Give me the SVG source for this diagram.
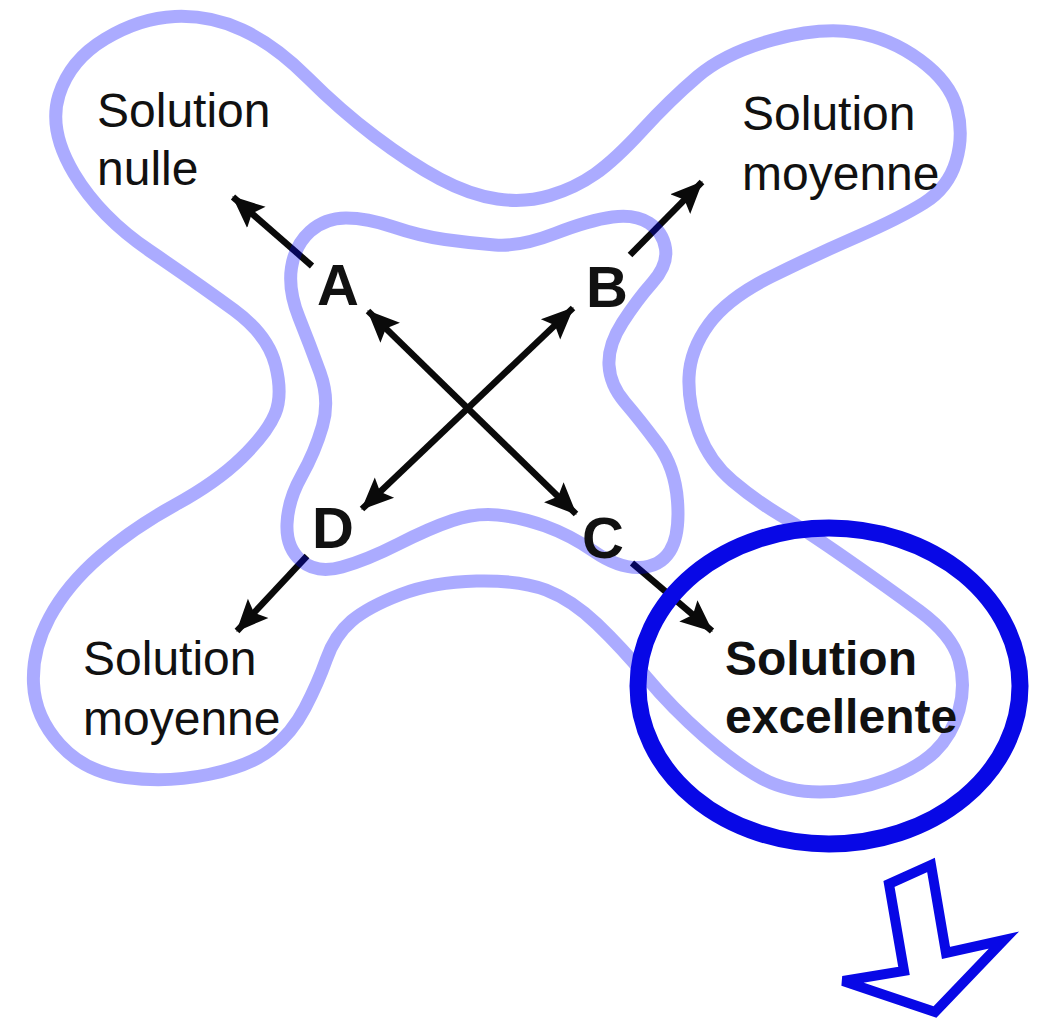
<svg xmlns="http://www.w3.org/2000/svg" width="1045" height="1022" viewBox="0 0 1045 1022">
<style>
.lbl{font-family:"Liberation Sans",Arial,sans-serif;font-size:48px;fill:#111}
.bold{font-weight:bold}
.let{font-family:"Liberation Sans",Arial,sans-serif;font-size:58px;font-weight:bold;fill:#111}
.arr{stroke:#0a0a0a;stroke-width:6.5;fill:none}
.zone{fill:none;stroke:#0000ff;stroke-opacity:0.33;stroke-width:13;stroke-linejoin:round}
</style>
<defs>
<marker id="ah" markerUnits="userSpaceOnUse" markerWidth="34" markerHeight="30" refX="31" refY="14" orient="auto-start-reverse" viewBox="0 0 34 28">
<path d="M0,0 L32,14 L0,28 L6,14 Z" fill="#0a0a0a"/>
</marker>
</defs>
<rect width="1045" height="1022" fill="#fff"/>
<g id="connectors">
<line class="arr" x1="368" y1="311" x2="576" y2="514" marker-start="url(#ah)" marker-end="url(#ah)"/>
<line class="arr" x1="573" y1="308" x2="362" y2="509" marker-start="url(#ah)" marker-end="url(#ah)"/>
<line class="arr" x1="312" y1="266" x2="233" y2="197" marker-end="url(#ah)"/>
<line class="arr" x1="630" y1="255" x2="702" y2="182" marker-end="url(#ah)"/>
<line class="arr" x1="307" y1="556" x2="237" y2="631" marker-end="url(#ah)"/>
<line class="arr" x1="632" y1="563" x2="712" y2="631" marker-end="url(#ah)"/>
</g>
<g id="outer-zone">
<path class="zone" d="M74,173.5 Q48,130 59,95 Q70,60 105,39 Q140,18 175,16.5 Q210,15 242.5,30 Q275,45 307.5,77.5 Q340,110 375,136.5 Q410,163 440,179 Q470,195 497.5,199 Q525,203 550,195.5 Q575,188 595,174 Q615,160 642.5,130 Q670,100 697.5,76.5 Q725,53 772.5,40 Q820,27 855,32.5 Q890,38 920,60 Q950,82 957,108.5 Q964,135 956,161.5 Q948,188 924,203 Q900,218 857.5,236.5 Q815,255 771.5,276.5 Q728,298 709,324 Q690,350 689,377.5 Q688,405 699,433.5 Q710,462 732.5,481 Q755,500 780,515 Q805,530 846,558.5 Q887,587 919.5,611 Q952,635 959,660 Q966,685 959,710 Q952,735 935,751.5 Q918,768 885.5,780 Q853,792 820,792 Q787,792 762,778.5 Q737,765 704.5,736.5 Q672,708 647,678 Q622,648 597,624 Q572,600 546,590 Q520,580 476.5,581 Q433,582 400.5,594.5 Q368,607 351.5,621 Q335,635 326.5,659 Q318,683 305,708 Q292,733 271,749.5 Q250,766 208.5,774.5 Q167,783 126,777.5 Q85,772 60,744.5 Q35,717 33.5,683.5 Q32,650 49.5,617.5 Q67,585 100,556.5 Q133,528 175,505 Q217,482 242,457.5 Q267,433 275,414 Q283,395 275.5,365 Q268,335 234,310 Q200,285 150,251 Q100,217 74,173.5 Z"/>
</g>
<g id="inner-zone">
<path class="zone" d="M555,233.5 Q520,247 495,245 Q470,243 445,239.5 Q420,236 393.5,227 Q367,218 346,218 Q325,218 310,231.5 Q295,245 291.5,267.5 Q288,290 299,317.5 Q310,345 320,372.5 Q330,400 322.5,426 Q315,452 301.5,476 Q288,500 287,524 Q286,548 301.5,561 Q317,574 342,567 Q367,560 398.5,544 Q430,528 452.5,520.5 Q475,513 497.5,515 Q520,517 545,526 Q570,535 594,551.5 Q618,568 639,567.5 Q660,567 670,551 Q680,535 677.5,501 Q675,467 657.5,443.5 Q640,420 625,402.5 Q610,385 609,365 Q608,345 622.5,322.5 Q637,300 652.5,282.5 Q668,265 665.5,248.5 Q663,232 649,223 Q635,214 612.5,217 Q590,220 555,233.5 Z"/>
</g>
<g id="highlight">
<ellipse cx="829" cy="686" rx="191" ry="158" fill="none" stroke="#0808e6" stroke-width="17"/>
</g>
<g id="down-arrow">
<polygon points="931,865 889,884 904,971 843,981 935,1012 1004,940 946,953" fill="#fff" stroke="#0808e6" stroke-width="10" stroke-linejoin="miter"/>
</g>
<g id="node-nulle"><text class="lbl" x="97" y="127">Solution</text><text class="lbl" x="97" y="185">nulle</text></g>
<g id="node-moyenne-b"><text class="lbl" x="742" y="130">Solution</text><text class="lbl" x="742" y="190">moyenne</text></g>
<g id="node-moyenne-d"><text class="lbl" x="83" y="675">Solution</text><text class="lbl" x="83" y="735">moyenne</text></g>
<g id="node-excellente"><text class="lbl bold" x="725" y="675">Solution</text><text class="lbl bold" x="725" y="733">excellente</text></g>
<g id="node-A"><text class="let" x="317" y="305">A</text></g>
<g id="node-B"><text class="let" x="586" y="307">B</text></g>
<g id="node-C"><text class="let" x="582" y="558">C</text></g>
<g id="node-D"><text class="let" x="312" y="548">D</text></g>
</svg>
